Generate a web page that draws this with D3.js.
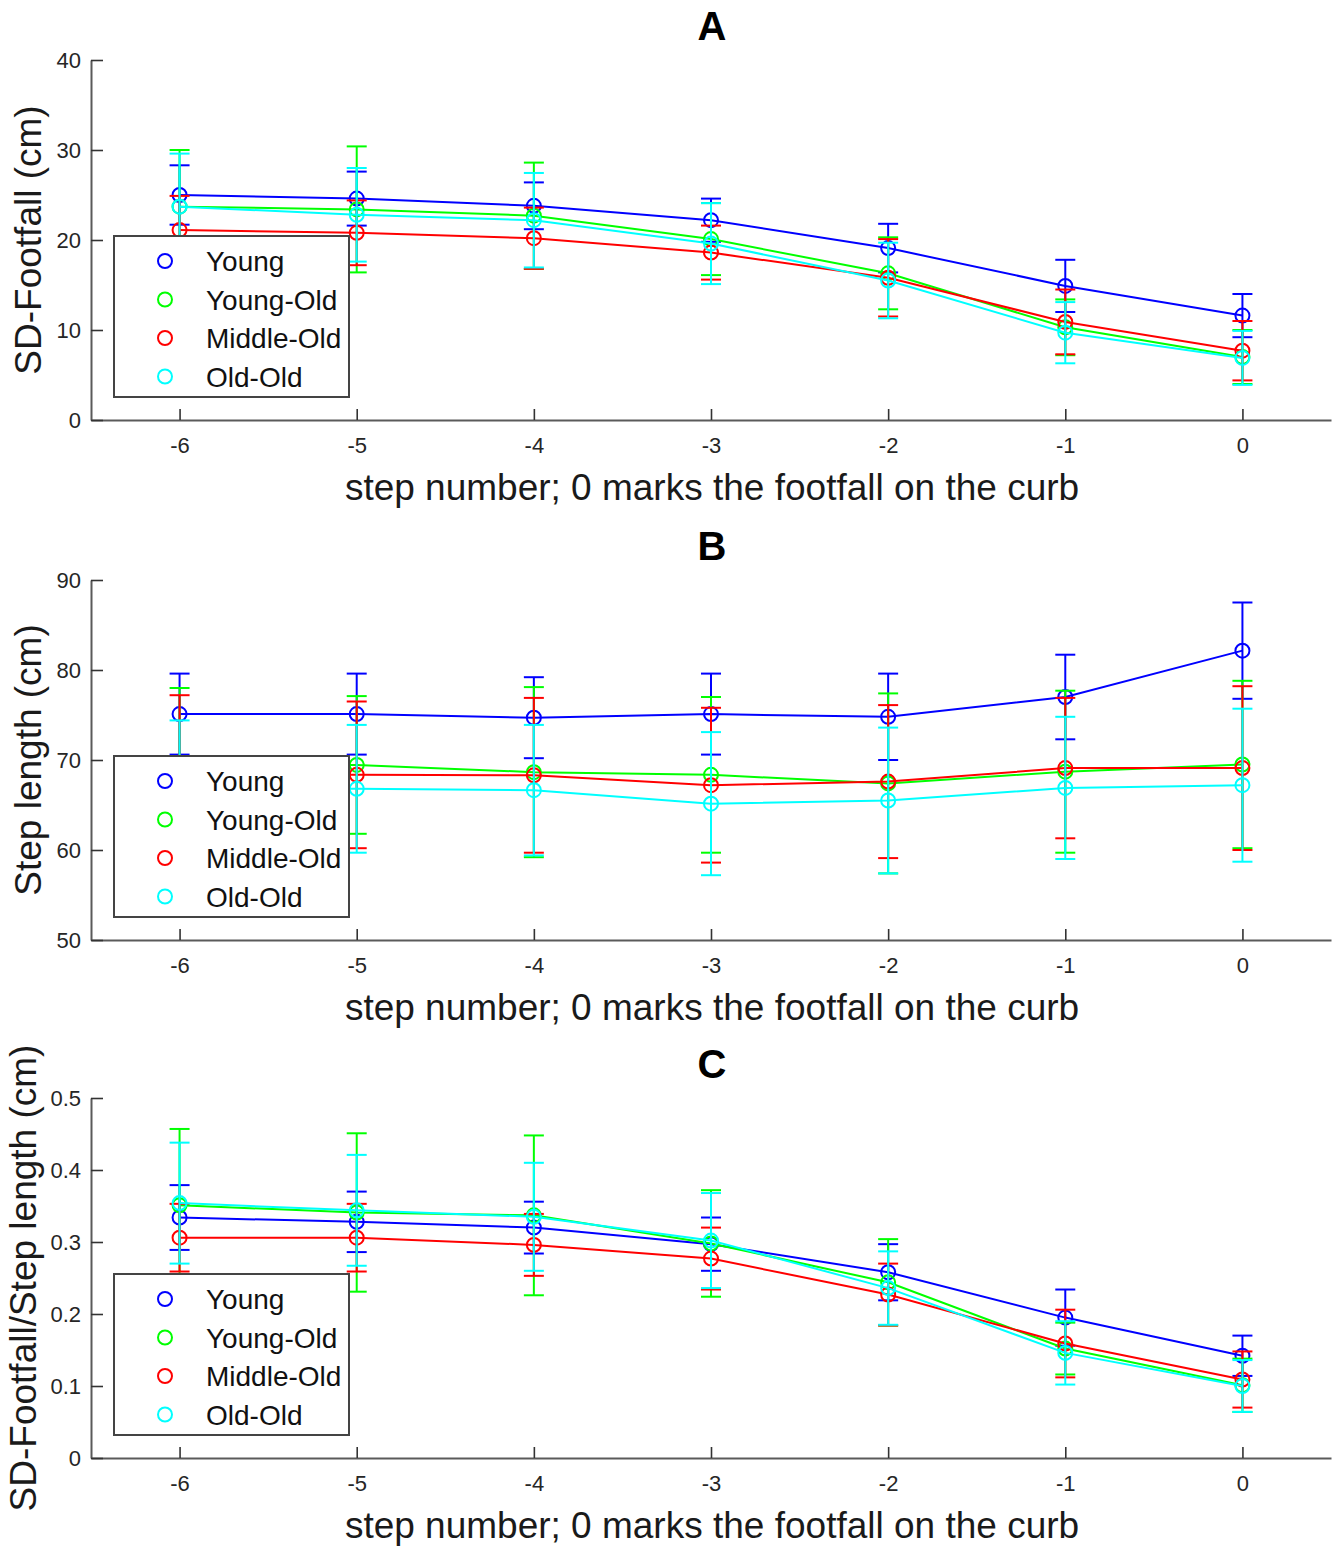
<!DOCTYPE html>
<html>
<head>
<meta charset="utf-8">
<script src="https://cdn.jsdelivr.net/npm/d3@7"></script>
<style>
  body { margin: 0; background: #fff; }
  svg { display: block; font-family: "Liberation Sans", Arial, sans-serif; }
</style>
</head>
<body>
<div id="chart"></div>
<script>
// step numbers on the x axis
const steps = [-6, -5, -4, -3, -2, -1, 0];
const groups = ["Young", "Young-Old", "Middle-Old", "Old-Old"];
const groupColors = ["#0000ff", "#00ff00", "#ff0000", "#00ffff"];

// Panel A: SD-Footfall (cm), one row per group
const footfallMean = [
    [25.0, 24.6, 23.8, 22.2, 19.1, 14.9, 11.6],
    [23.7, 23.4, 22.7, 20.1, 16.3, 10.3, 7.0],
    [21.1, 20.8, 20.2, 18.6, 15.8, 10.9, 7.7],
    [23.7, 22.8, 22.2, 19.6, 15.5, 9.7, 6.9]
];
const footfallSd = [
    [3.3, 3.0, 2.6, 2.4, 2.7, 2.9, 2.4],
    [6.3, 7.0, 5.9, 4.0, 4.0, 3.1, 3.0],
    [3.8, 3.6, 3.4, 3.0, 4.3, 3.6, 3.3],
    [5.9, 5.2, 5.25, 4.5, 4.2, 3.4, 3.0]
];

// Panel B: step length (cm)
const stepMean = [
    [75.1, 75.1, 74.7, 75.1, 74.8, 77.0, 82.15],
    [69.5, 69.45, 68.65, 68.35, 67.4, 68.7, 69.5],
    [68.3, 68.35, 68.3, 67.2, 67.6, 69.1, 69.1],
    [66.8, 66.8, 66.65, 65.15, 65.5, 66.9, 67.2]
];
const stepSd = [
    [4.5, 4.5, 4.5, 4.5, 4.8, 4.7, 5.35],
    [8.5, 7.65, 9.45, 8.65, 10.0, 9.0, 9.3],
    [8.9, 8.15, 8.6, 8.6, 8.5, 7.8, 9.1],
    [7.6, 7.1, 7.25, 7.95, 8.1, 7.9, 8.5]
];

// Panel C: SD-Footfall / step length
const ratioMean = [
    [0.334, 0.328, 0.320, 0.297, 0.258, 0.195, 0.142],
    [0.351, 0.341, 0.337, 0.298, 0.244, 0.152, 0.101],
    [0.306, 0.306, 0.296, 0.277, 0.227, 0.159, 0.109],
    [0.354, 0.344, 0.335, 0.302, 0.236, 0.146, 0.100]
];
const ratioSd = [
    [0.045, 0.042, 0.036, 0.037, 0.039, 0.039, 0.028],
    [0.106, 0.110, 0.111, 0.074, 0.060, 0.036, 0.037],
    [0.047, 0.047, 0.043, 0.043, 0.043, 0.047, 0.039],
    [0.084, 0.077, 0.075, 0.066, 0.051, 0.044, 0.036]
];

const xLabel = "step number; 0 marks the footfall on the curb";

const panels = [
    { title: "A", ylabel: "SD-Footfall (cm)", mean: footfallMean, sd: footfallSd,
      domain: [0, 40], ticks: [0, 10, 20, 30, 40], fmt: d => String(d), top: 60, ylabX: 41 },
    { title: "B", ylabel: "Step length (cm)", mean: stepMean, sd: stepSd,
      domain: [50, 90], ticks: [50, 60, 70, 80, 90], fmt: d => String(d), top: 580, ylabX: 41 },
    { title: "C", ylabel: "SD-Footfall/Step length (cm)", mean: ratioMean, sd: ratioSd,
      domain: [0, 0.5], ticks: [0, 0.1, 0.2, 0.3, 0.4, 0.5], fmt: d => d === 0 ? "0" : d3.format(".1f")(d), top: 1098, ylabX: 36 }
];

const width = 1338, height = 1546;
const left = 91, right = 1331, plotH = 360;

const svg = d3.select("#chart").append("svg")
    .attr("width", width)
    .attr("height", height);

const x = d3.scaleLinear().domain([-6.5, 0.5]).range([left, right]);

panels.forEach(function (p) {
    const y = d3.scaleLinear().domain(p.domain).range([p.top + plotH, p.top]);
    const g = svg.append("g");

    // title
    g.append("text")
        .attr("x", 712).attr("y", p.top - 20)
        .attr("text-anchor", "middle")
        .style("font-size", "40px").style("font-weight", "bold")
        .text(p.title);

    // axes
    const xAxis = g.append("g")
        .attr("transform", "translate(0," + (p.top + plotH) + ")")
        .call(d3.axisBottom(x).tickValues(steps).tickFormat(d => String(d))
            .tickSizeInner(-11).tickSizeOuter(0).tickPadding(17));
    const yAxis = g.append("g")
        .attr("transform", "translate(" + left + ",0)")
        .call(d3.axisLeft(y).tickValues(p.ticks).tickFormat(p.fmt)
            .tickSizeInner(-12).tickSizeOuter(0).tickPadding(10));

    [xAxis, yAxis].forEach(function (a) {
        a.select(".domain").attr("stroke", "#5a5a5a").attr("stroke-width", 2);
        a.selectAll(".tick line").attr("stroke", "#333").attr("stroke-width", 1.6);
        a.selectAll(".tick text").attr("fill", "#262626")
            .style("font-size", "22px").style("font-family", "'Liberation Sans', Arial, sans-serif");
    });

    // axis labels
    g.append("text")
        .attr("x", 712).attr("y", p.top + plotH + 80)
        .attr("text-anchor", "middle")
        .style("font-size", "37px").attr("fill", "#1a1a1a")
        .text(xLabel);
    g.append("text")
        .attr("transform", "translate(" + p.ylabX + "," + (p.top + plotH / 2) + ") rotate(-90)")
        .attr("text-anchor", "middle")
        .style("font-size", "37px").attr("fill", "#1a1a1a")
        .text(p.ylabel);

    // series
    const line = d3.line().x(d => x(d.step)).y(d => y(d.mean));
    groups.forEach(function (name, gi) {
        const pts = steps.map((s, i) => ({ step: s, mean: p.mean[gi][i], sd: p.sd[gi][i] }));
        const col = groupColors[gi];
        const sg = g.append("g").attr("class", "series");

        sg.append("path").datum(pts)
            .attr("d", line).attr("fill", "none")
            .attr("stroke", col).attr("stroke-width", 2);

        const bars = sg.selectAll(".err").data(pts).enter().append("g");
        bars.append("line")
            .attr("x1", d => x(d.step)).attr("x2", d => x(d.step))
            .attr("y1", d => y(d.mean - d.sd)).attr("y2", d => y(d.mean + d.sd))
            .attr("stroke", col).attr("stroke-width", 2);
        [-1, 1].forEach(function (sgn) {
            bars.append("line")
                .attr("x1", d => x(d.step) - 10).attr("x2", d => x(d.step) + 10)
                .attr("y1", d => y(d.mean + sgn * d.sd)).attr("y2", d => y(d.mean + sgn * d.sd))
                .attr("stroke", col).attr("stroke-width", 2);
        });

        sg.selectAll("circle").data(pts).enter().append("circle")
            .attr("cx", d => x(d.step)).attr("cy", d => y(d.mean))
            .attr("r", 7).attr("fill", "none")
            .attr("stroke", col).attr("stroke-width", 2);
    });

    // legend box drawn over the data
    const lg = g.append("g").attr("transform", "translate(114," + (p.top + 176) + ")");
    lg.append("rect")
        .attr("width", 235).attr("height", 161)
        .attr("fill", "#fff").attr("stroke", "#444").attr("stroke-width", 2);
    groups.forEach(function (name, gi) {
        const ry = 25 + gi * 38.5;
        lg.append("circle")
            .attr("cx", 51).attr("cy", ry).attr("r", 7)
            .attr("fill", "none").attr("stroke", groupColors[gi]).attr("stroke-width", 2);
        lg.append("text")
            .attr("x", 92).attr("y", ry).attr("dy", "0.36em")
            .style("font-size", "28px").attr("fill", "#111")
            .text(name);
    });
});
</script>
</body>
</html>
